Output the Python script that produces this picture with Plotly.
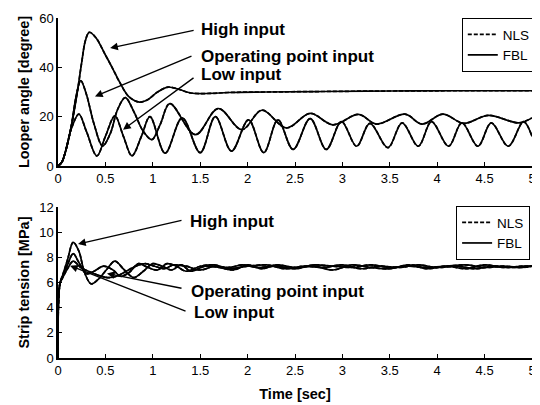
import plotly.graph_objects as go

# ---------------- data ----------------
# Top panel: looper angle [degree]
t_high_a = [0, 0.04, 0.08, 0.14, 0.2, 0.25, 0.29, 0.33, 0.4, 0.5, 0.57, 0.65, 0.75, 0.86, 0.95, 1.05, 1.16,
            1.28, 1.4, 1.6, 1.8, 2.2, 2.8, 3.5, 4.2, 5.0]
v_high_a = [0, 1.5, 6, 16, 29, 42, 51, 54.2, 52, 45, 40, 34, 28, 25.9, 27, 30, 32,
            31, 29.6, 29.4, 29.8, 30, 30.2, 30.4, 30.5, 30.5]

t_op_a = [0, 0.04, 0.08, 0.14, 0.19, 0.24, 0.3, 0.38, 0.47, 0.55, 0.63, 0.71, 0.8, 0.9, 0.99, 1.08, 1.18,
          1.45, 1.69, 1.94, 2.15, 2.41, 2.66, 2.90, 3.17, 3.36, 3.66, 3.84, 4.06, 4.28, 4.54, 4.86, 5.0]
v_op_a = [0, 1.5, 6, 16, 28, 34.6, 29, 17, 8.1, 13, 23, 27.7, 22, 14, 10.7, 17, 25.3,
          12.7, 23.3, 14.7, 22.6, 15.4, 21.3, 16.7, 20.9, 17, 21, 17, 21, 17.3, 20.5, 17.5, 19.5]

t_low_a = [0, 0.04, 0.08, 0.14, 0.22, 0.3, 0.41, 0.5, 0.6, 0.69, 0.78, 0.88, 0.97, 1.13, 1.31, 1.5, 1.66,
           1.83, 2.01, 2.17, 2.32, 2.48, 2.66, 2.83, 2.99, 3.15, 3.29, 3.48, 3.63, 3.80, 3.94, 4.12, 4.26,
           4.43, 4.57, 4.75, 4.91, 5.0]
v_low_a = [0, 1.5, 6, 15, 21, 14, 4.1, 12, 20.3, 12, 4.1, 12, 20, 5.2, 19.5, 5.4, 20,
           6, 18.7, 5.4, 18.7, 6.7, 19.2, 6.7, 18, 8, 17.3, 7.4, 17.5, 8, 18, 8, 17.5,
           8, 17.5, 8, 18, 12]

# Bottom panel: strip tension [MPa]
t_high_s = [0, 0.02, 0.05, 0.1, 0.16, 0.22, 0.28, 0.35, 0.43, 0.52, 0.6, 0.7, 0.8, 0.9, 1.0, 1.1, 1.2, 1.3,
            1.4, 1.55, 1.7, 1.85, 2.0, 2.15, 2.3, 2.5, 2.7, 2.9, 3.1, 3.3, 3.5, 3.7, 3.9, 4.1, 4.3, 4.5,
            4.7, 4.9, 5.0]
v_high_s = [0, 5.9, 6.6, 7.8, 9.2, 8.5, 6.8, 5.9, 6.3, 7.1, 7.7, 7.0, 6.4, 6.9, 7.5, 7.3, 7.0, 7.4,
            6.9, 7.3, 7.2, 7.0, 7.4, 7.1, 7.4, 7.2, 7.3, 7.0, 7.4, 7.2, 7.1, 7.4, 7.1, 7.3, 7.1, 7.4,
            7.2, 7.3, 7.3]

t_op_s = [0, 0.02, 0.05, 0.1, 0.16, 0.22, 0.3, 0.38, 0.48, 0.58, 0.66, 0.75, 0.85, 0.95, 1.05, 1.15, 1.25,
          1.35, 1.5, 1.65, 1.8, 2.0, 2.2, 2.4, 2.6, 2.8, 3.0, 3.2, 3.4, 3.6, 3.8, 4.0, 4.2, 4.4, 4.6, 4.8, 5.0]
v_op_s = [0, 5.9, 6.5, 7.4, 8.3, 7.6, 6.7, 6.9, 7.3, 7.0, 6.5, 6.8, 7.5, 7.2, 7.0, 7.5, 7.3,
          6.9, 7.3, 7.4, 7.1, 7.3, 7.4, 7.1, 7.3, 7.2, 7.4, 7.1, 7.3, 7.2, 7.4, 7.2, 7.3, 7.1, 7.3, 7.2, 7.3]

t_low_s = [0, 0.02, 0.05, 0.1, 0.16, 0.24, 0.32, 0.42, 0.52, 0.62, 0.72, 0.82, 0.92, 1.02, 1.12, 1.22, 1.35,
           1.5, 1.65, 1.8, 1.95, 2.1, 2.3, 2.5, 2.7, 2.9, 3.1, 3.3, 3.5, 3.7, 3.9, 4.1, 4.3, 4.5, 4.7, 4.9, 5.0]
v_low_s = [0, 5.9, 6.4, 7.1, 7.7, 7.2, 6.9, 6.6, 6.4, 6.5, 6.9, 7.3, 7.5, 7.3, 7.1, 7.4, 7.3,
           7.0, 7.3, 7.2, 7.4, 7.2, 7.3, 7.1, 7.4, 7.3, 7.2, 7.4, 7.2, 7.3, 7.2, 7.3, 7.4, 7.2, 7.3, 7.2, 7.3]

x_tickvals = [0, 0.5, 1, 1.5, 2, 2.5, 3, 3.5, 4, 4.5, 5]
x_ticktext = ["0", "0.5", "1", "1.5", "2", "2.5", "3", "3.5", "4", "4.5", "5"]
y1_tickvals = [0, 20, 40, 60]
y2_tickvals = [0, 2, 4, 6, 8, 10, 12]

series_labels = ["NLS", "FBL"]

# ---------------- figure ----------------
FONT = "Liberation Sans, Arial, sans-serif"
LW = 1.7
fig = go.Figure()

top = [(t_high_a, v_high_a), (t_op_a, v_op_a), (t_low_a, v_low_a)]
bot = [(t_high_s, v_high_s), (t_op_s, v_op_s), (t_low_s, v_low_s)]

for panel, (xa, ya, leg) in zip([top, bot], [("x", "y", "legend"), ("x2", "y2", "legend2")]):
    for i, (tt, vv) in enumerate(panel):
        fig.add_trace(go.Scatter(x=tt, y=vv, mode="lines", name=series_labels[1],
                                 line=dict(color="black", width=LW, shape="spline", smoothing=1.0),
                                 xaxis=xa, yaxis=ya, legend=leg, showlegend=(i == 0),
                                 legendrank=2))
    for i, (tt, vv) in enumerate(panel):
        fig.add_trace(go.Scatter(x=tt, y=vv, mode="lines", name=series_labels[0],
                                 line=dict(color="black", width=LW, dash="4px,2px", shape="spline",
                                           smoothing=1.0),
                                 xaxis=xa, yaxis=ya, legend=leg, showlegend=(i == 0),
                                 legendrank=1))

axis_common = dict(showline=True, linecolor="black", linewidth=1.5, ticks="inside", ticklen=4,
                   tickcolor="black", showgrid=False, zeroline=False, mirror=False,
                   tickfont=dict(family=FONT, size=13, color="black"))

# the page body has an 8px margin, so the figure is 8px smaller and margins shifted
fig.update_layout(
    width=532, height=397,
    margin=dict(l=50, r=8, t=3, b=47),
    paper_bgcolor="white", plot_bgcolor="white",
    font=dict(family=FONT, color="black"),
    xaxis=dict(domain=[0, 1], anchor="y", range=[0, 5], tickvals=x_tickvals, ticktext=x_ticktext,
               ticklabeloverflow="allow", **axis_common),
    yaxis=dict(domain=[0.5648, 1], anchor="x", range=[0, 60], tickvals=y1_tickvals,
               title=dict(text="<b>Looper angle [degree]</b>", font=dict(size=14.5, family=FONT),
                          standoff=6),
               **axis_common),
    xaxis2=dict(domain=[0, 1], anchor="y2", range=[0, 5], tickvals=x_tickvals, ticktext=x_ticktext,
                ticklabeloverflow="allow",
                title=dict(text="<b>Time [sec]</b>", font=dict(size=14.5, family=FONT), standoff=12),
                **axis_common),
    yaxis2=dict(domain=[0, 0.4438], anchor="x2", range=[0, 12], tickvals=y2_tickvals,
                title=dict(text="<b>Strip tension [MPa]</b>", font=dict(size=14.5, family=FONT),
                           standoff=6),
                **axis_common),
    legend=dict(x=1.008, y=1.0, xanchor="right", yanchor="top", bordercolor="black", borderwidth=1,
                bgcolor="white", font=dict(size=13.5, family=FONT), tracegroupgap=0,
                itemwidth=30),
    legend2=dict(x=0.996, y=0.4467, xanchor="right", yanchor="top", bordercolor="black",
                 borderwidth=1, bgcolor="white", font=dict(size=13.5, family=FONT), itemwidth=30),
)

ann_font = dict(family=FONT, size=17, color="black")
labels = ["High input", "Operating point input", "Low input"]

# arrows: (xref, yref, head x, head y, ax px, ay px)
arrows = [("x", "y", 0.55, 47.8, 85, -18), ("x", "y", 0.39, 28.2, 98, -41),
          ("x", "y", 0.686, 14.7, 72, -53),
          ("x2", "y2", 0.211, 9.06, 105, -24), ("x2", "y2", 0.517, 6.72, 76, 15),
          ("x2", "y2", 0.127, 7.34, 117, 46)]
for xr, yr, hx, hy, ax, ay in arrows:
    fig.add_annotation(xref=xr, yref=yr, x=hx, y=hy, ax=ax, ay=ay, text="", showarrow=True,
                       arrowhead=2, arrowsize=1.1, arrowwidth=1.4, arrowcolor="black",
                       standoff=0, startstandoff=0)

texts = [("x", "y", 1.487, 55.2, 0), ("x", "y", 1.487, 44.5, 1), ("x", "y", 1.487, 36.9, 2),
         ("x2", "y2", 1.371, 10.86, 0), ("x2", "y2", 1.382, 5.31, 1), ("x2", "y2", 1.413, 3.59, 2)]
for xr, yr, tx, ty, k in texts:
    fig.add_annotation(xref=xr, yref=yr, x=tx, y=ty, text="<b>" + labels[k] + "</b>",
                       showarrow=False, xanchor="left", yanchor="middle", font=ann_font)

fig.write_html("out.html")
